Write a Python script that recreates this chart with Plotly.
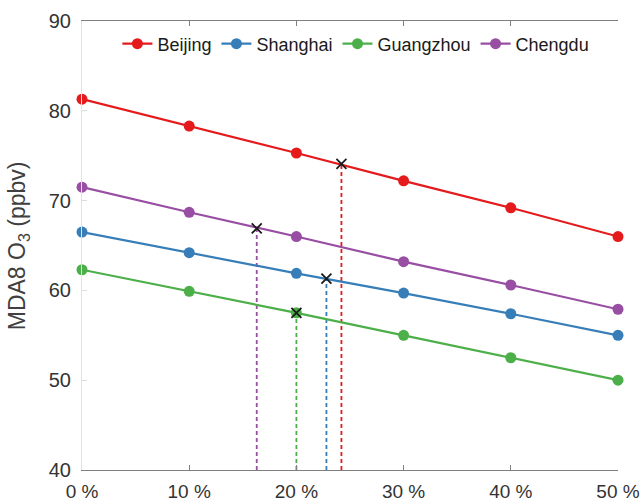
import plotly.graph_objects as go

# Emission reduction levels (%) and MDA8 O3 (ppbv) per city
reduction = [0, 10, 20, 30, 40, 50]
beijing = [81.3, 78.3, 75.3, 72.2, 69.2, 66.0]
shanghai = [66.5, 64.2, 61.9, 59.7, 57.4, 55.0]
guangzhou = [62.3, 59.9, 57.5, 55.0, 52.5, 50.0]
chengdu = [71.5, 68.7, 66.0, 63.2, 60.6, 57.9]

# Reduction needed to reach the target, and the O3 level at that point
cities = ["Beijing", "Shanghai", "Guangzhou", "Chengdu"]
threshold_x = [24.2, 22.8, 20.0, 16.3]
threshold_y = [74.1, 61.3, 57.5, 66.9]

x_ticks = [0, 10, 20, 30, 40, 50]
x_ticklabels = ["0 %", "10 %", "20 %", "30 %", "40 %", "50 %"]
y_ticks = [40, 50, 60, 70, 80, 90]

colors = ["#e41a1c", "#377eb8", "#4daf4a", "#984ea3"]
series = [beijing, shanghai, guangzhou, chengdu]

FONT = "Liberation Sans, Arial, sans-serif"
fig = go.Figure()

# dashed drop lines from each threshold point down to the x axis
for name, xc, yc, col in zip(cities, threshold_x, threshold_y, colors):
    fig.add_trace(go.Scatter(
        x=[xc, xc], y=[y_ticks[0], yc], mode="lines",
        line=dict(color=col, width=1.8, dash="4px,3px"),
        showlegend=False, hoverinfo="skip", cliponaxis=False))

# city lines
for name, vals, col in zip(cities, series, colors):
    fig.add_trace(go.Scatter(
        x=reduction, y=vals, name=name, mode="lines+markers",
        line=dict(color=col, width=2.2),
        marker=dict(symbol="circle", size=11, color=col),
        cliponaxis=False))

# threshold crosses
fig.add_trace(go.Scatter(
    x=threshold_x, y=threshold_y, mode="markers",
    marker=dict(symbol="x-thin", size=10, line=dict(color="#1a1a1a", width=1.8)),
    showlegend=False, hoverinfo="skip", cliponaxis=False))

axis_font = dict(family=FONT, size=20, color="#333333")
xtick_font = dict(family=FONT, size=19, color="#333333")

fig.update_layout(
    width=643, height=502,
    margin=dict(l=82, r=25, t=21, b=32, autoexpand=False),
    paper_bgcolor="white", plot_bgcolor="white",
    font=dict(family=FONT, color="#262626"),
    showlegend=True,
    legend=dict(orientation="h", x=0.066, y=0.99, xanchor="left", yanchor="top",
                font=dict(family=FONT, size=18, color="#1a1a1a"),
                bgcolor="rgba(0,0,0,0)", itemwidth=30, tracegroupgap=0),
    xaxis=dict(range=[0, 50], tickvals=x_ticks, ticktext=x_ticklabels,
               ticks="inside", ticklen=5, tickcolor="#808080",
               showline=True, linecolor="#808080", linewidth=1, mirror="ticks",
               showgrid=False, zeroline=False, tickfont=xtick_font,
               ticklabelstandoff=4, automargin=False),
    yaxis=dict(range=[40, 90], tickvals=y_ticks,
               ticks="inside", ticklen=5, tickcolor="#dddddd",
               showline=True, linecolor="#e2e2e2", linewidth=1,
               showgrid=False, zeroline=False, tickfont=axis_font,
               ticklabelstandoff=6, automargin=False),
    yaxis2=dict(range=[40, 90], tickvals=y_ticks, overlaying="y", side="right",
                ticks="inside", ticklen=5, tickcolor="#808080",
                showline=True, linecolor="#808080", linewidth=1,
                showticklabels=False, showgrid=False, zeroline=False,
                automargin=False),
    annotations=[dict(
        text="MDA8 O<sub>3</sub> (ppbv)", textangle=-90,
        xref="paper", yref="paper", x=-0.118, y=0.5,
        xanchor="center", yanchor="middle", showarrow=False,
        font=dict(family=FONT, size=23, color="#404040"))],
)

fig.write_html("out.html")
